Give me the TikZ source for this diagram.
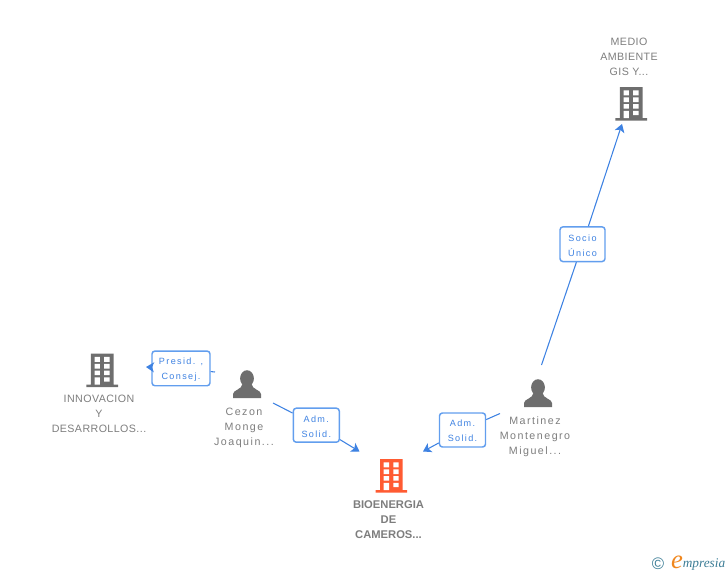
\documentclass[tikz,border=0pt]{standalone}
\usepackage{fontspec}
\setmainfont{Liberation Sans}
\newfontfamily\spacedfont[LetterSpace=4]{Liberation Sans}
\newfontfamily\widefont[LetterSpace=14]{Liberation Sans}
\newfontfamily\bluefont[LetterSpace=15]{Liberation Sans}
\newfontfamily\logofont{Liberation Serif}
\usetikzlibrary{arrows.meta}

\definecolor{icongray}{RGB}{110,110,110}
\definecolor{iconorange}{RGB}{255,91,50}
\definecolor{textgray}{RGB}{125,125,125}
\definecolor{linkblue}{RGB}{62,130,226}
\definecolor{boxblue}{RGB}{98,158,238}
\definecolor{logoblue}{RGB}{60,125,150}
\definecolor{logoorange}{RGB}{240,135,30}

\newcommand{\boxstrut}{\rule{0pt}{6.6pt}}

\tikzset{
    namelabel/.style={text=textgray,align=center,inner sep=0pt,font={\spacedfont\fontsize{8}{11.25}\selectfont}},
    personlabel/.style={text=textgray,align=center,inner sep=0pt,font={\widefont\fontsize{8}{11.25}\selectfont}},
    mainlabel/.style={text=textgray,align=center,inner sep=0pt,font={\bfseries\fontsize{8.4}{11.25}\selectfont}},
    rolebox/.style={draw=boxblue,line width=1.1pt,fill=white,rounded corners=2.2pt,text=linkblue,align=center,inner sep=0pt,font={\bluefont\fontsize{6.8}{11.25}\selectfont}},
    link/.style={draw=linkblue,line width=0.8pt},
    linkarrow/.style={link,-{Stealth[length=6pt,width=7.5pt,inset=1.5pt]}},
    pics/buildingicon/.style={code={
        \fill[#1] (-11.3,-31) rectangle (11.3,0) (-15.8,0) rectangle (15.8,2.5);
        \fill[white] (-7.7,-27.7) rectangle (-2.3,-22.7) (2,-27.7) rectangle (7.3,-22.7)
            (-7.7,-20.7) rectangle (-2.3,-16) (2,-20.7) rectangle (7.3,-16)
            (-7.7,-14) rectangle (-2.3,-9.5) (2,-14) rectangle (7.3,-9.5)
            (-7.7,-7.2) rectangle (-2.3,0) (2,-7.2) rectangle (7.3,-2.8);
    }},
    pics/personicon/.style={code={
        \fill[icongray] (0,-1.6) ellipse (6.9 and 8.2);
        \fill[icongray] (-14,18) -- (-14,14) .. controls (-14,10) and (-5,9.5) .. (-4.5,4) -- (4.5,4) .. controls (5,9.5) and (14,10) .. (14,14) -- (14,18) -- cycle;
    }}
}

\begin{document}
\begin{tikzpicture}[x=0.75pt,y=0.75pt,yscale=-1,xscale=1]
    \useasboundingbox (0,0) rectangle (728,575);

    % Icons
    \pic (mediobuilding) [transform shape] at (631.2,118) {buildingicon=icongray};
    \pic (innovacionbuilding) [transform shape] at (102.2,384.5) {buildingicon=icongray};
    \pic (bioenergiabuilding) [transform shape] at (391.3,490) {buildingicon=iconorange};
    \pic (cezonperson) [transform shape] at (247,380) {personicon};
    \pic (martinezperson) [transform shape] at (538,389) {personicon};

    % Text Node
    \node (medio) [namelabel] at (629,57) {MEDIO\\AMBIENTE\\GIS Y...};
    \node (innovacion) [namelabel] at (99,414) {INNOVACION\\Y\\DESARROLLOS...};
    \node (cezon) [personlabel] at (244,427.5) {Cezon\\Monge\\Joaquin...};
    \node (martinez) [personlabel] at (535,436.5) {Martinez\\Montenegro\\Miguel...};
    \node (bioenergia) [mainlabel] at (388.5,520) {BIOENERGIA\\DE\\CAMEROS...};

    % Role boxes
    \node (socio) [rolebox,minimum width=33.75pt,minimum height=26pt] at (582.5,244.2) {\boxstrut Socio\\Único};
    \node (presid) [rolebox,minimum width=43.5pt,minimum height=26pt] at (181,368.4) {\boxstrut Presid. ,\\Consej.};
    \node (admcezon) [rolebox,minimum width=34.5pt,minimum height=25.5pt] at (316.3,425.2) {\boxstrut Adm.\\Solid.};
    \node (admmartinez) [rolebox,minimum width=34.5pt,minimum height=25.5pt] at (462.5,430) {\boxstrut Adm.\\Solid.};

    % Connector ends
    \coordinate (sociostart) at (541.5,365);
    \coordinate (socioend) at (622,124);
    \coordinate (presidstart) at (215,372);
    \coordinate (presidend) at (146,367);
    \coordinate (admcezonstart) at (273,403);
    \coordinate (admcezonend) at (359.5,451.5);
    \coordinate (admmartinezstart) at (500,413.5);
    \coordinate (admmartinezend) at (423,451.5);

    % Connectors
    \draw [link] (sociostart) -- (socio);
    \draw [linkarrow] (socio) -- (socioend);
    \draw [link] (presidstart) -- (presid);
    \draw [linkarrow] (presid) -- (presidend);
    \draw [link] (admcezonstart) -- (admcezon);
    \draw [linkarrow] (admcezon) -- (admcezonend);
    \draw [link] (admmartinezstart) -- (admmartinez);
    \draw [linkarrow] (admmartinez) -- (admmartinezend);

    % Logo
    \node (logocopy) [text=logoblue,inner sep=0pt,font={\fontsize{12.5}{12.5}\selectfont}] at (658,564) {©};
    \node (logoe) [text=logoorange,inner sep=0pt,font={\logofont\itshape\fontsize{20}{20}\selectfont}] at (677,562) {e};
    \node (logoname) [text=logoblue,anchor=west,inner sep=0pt,font={\logofont\itshape\fontsize{10}{10}\selectfont}] at (682.5,564) {mpresia};
\end{tikzpicture}
\end{document}
